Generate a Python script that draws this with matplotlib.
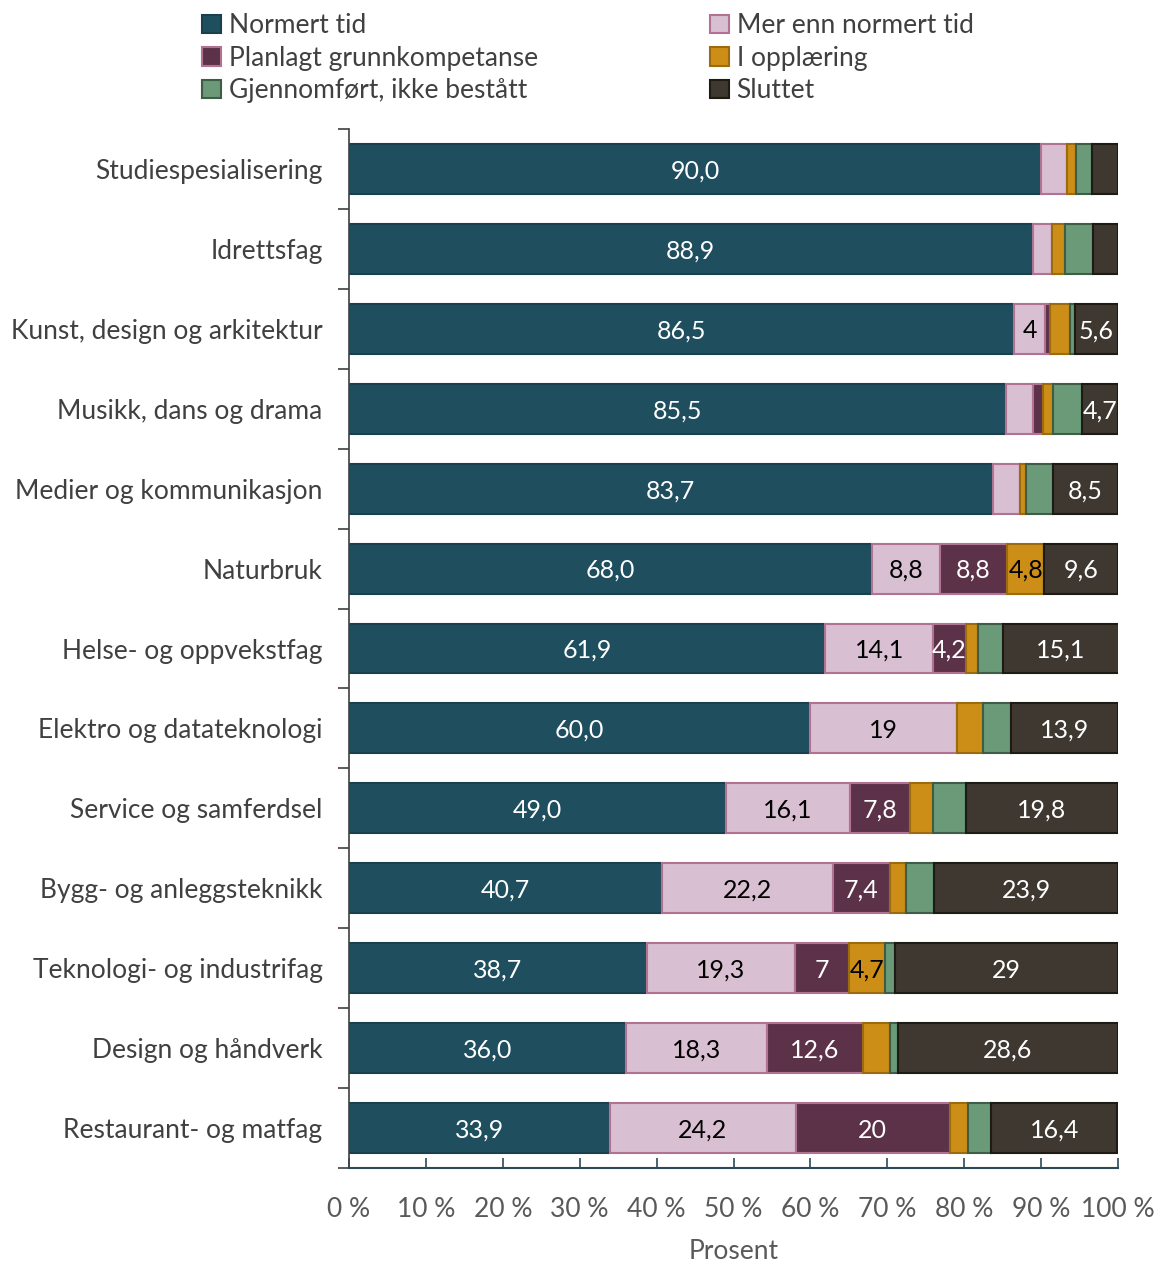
#!/usr/bin/env python3
"""Completion status by programme area, stacked horizontal bars (percent)."""

import numpy as np
import matplotlib
matplotlib.use("Agg")
import matplotlib.pyplot as plt
from matplotlib.patches import Patch

plt.rcParams["font.family"] = ["Lato", "DejaVu Sans"]

# Data
categories = [
    "Studiespesialisering", "Idrettsfag", "Kunst, design og arkitektur",
    "Musikk, dans og drama", "Medier og kommunikasjon", "Naturbruk",
    "Helse- og oppvekstfag", "Elektro og datateknologi", "Service og samferdsel",
    "Bygg- og anleggsteknikk", "Teknologi- og industrifag", "Design og håndverk",
    "Restaurant- og matfag",
]
series_names = [
    "Normert tid", "Mer enn normert tid", "Planlagt grunnkompetanse",
    "I opplæring", "Gjennomført, ikke bestått", "Sluttet",
]
normert = [90.0, 88.9, 86.5, 85.5, 83.7, 68.0, 61.9, 60.0, 49.0, 40.7, 38.7, 36.0, 33.9]
mer_enn = [3.4, 2.5, 4.0, 3.5, 3.5, 8.8, 14.1, 19.0, 16.1, 22.2, 19.3, 18.3, 24.2]
planlagt = [0.0, 0.0, 0.7, 1.2, 0.0, 8.8, 4.2, 0.0, 7.8, 7.4, 7.0, 12.6, 20.0]
opplaering = [1.1, 1.7, 2.5, 1.3, 0.8, 4.8, 1.6, 3.5, 3.0, 2.1, 4.7, 3.4, 2.4]
ikke_bestatt = [2.1, 3.7, 0.7, 3.8, 3.5, 0.0, 3.2, 3.6, 4.3, 3.7, 1.3, 1.1, 3.0]
sluttet = [3.4, 3.2, 5.6, 4.7, 8.5, 9.6, 15.1, 13.9, 19.8, 23.9, 29.0, 28.6, 16.4]
x_ticks = [0, 10, 20, 30, 40, 50, 60, 70, 80, 90, 100]

# Styles
FACE = ["#1f4e5f", "#d8bfd1", "#5c3249", "#cc8e16", "#6a9a78", "#3e3830"]
EDGE = ["#1a3f4d", "#b27393", "#b27393", "#9c6b0f", "#3f5c47", "#1e1b17"]
TEXT = ["white", "black", "white", "black", "white", "white"]
SHOW_LABEL = [True, True, True, True, False, True]
LABEL_MIN = 4.0
GRAY = "#404040"
AXIS = "#2b4a57"
FS = 19

fig = plt.figure(figsize=(11.58, 12.62), dpi=100)
ax = fig.add_axes([349 / 1158, 1 - 1168 / 1262, 769 / 1158, 1039 / 1262])

data = [normert, mer_enn, planlagt, opplaering, ikke_bestatt, sluttet]
y = np.arange(len(categories))
left = np.zeros(len(categories))
for k, vals in enumerate(data):
    vals = np.array(vals)
    ax.barh(y, vals, left=left, height=0.625, color=FACE[k],
            edgecolor=EDGE[k], linewidth=1.5, label=series_names[k])
    if SHOW_LABEL[k]:
        for yi, (l, v) in enumerate(zip(left, vals)):
            if v < LABEL_MIN:
                continue
            txt = f"{v:.1f}" if k == 0 else f"{v:g}"
            ax.text(l + v / 2, yi, txt.replace(".", ","), ha="center",
                    va="center_baseline", color=TEXT[k], fontsize=18)
    left += vals

ax.set_xlim(0, 100)
ax.set_ylim(len(categories) - 0.5, -0.5)
ax.set_yticks(y)
ax.set_yticklabels(categories, fontsize=FS, color=GRAY)
ax.set_yticks(np.arange(len(categories) + 1) - 0.5, minor=True)
ax.tick_params(axis="y", which="major", length=0, pad=19)
ax.tick_params(axis="y", which="minor", length=8, width=1.2, color=GRAY,
               direction="out")
ax.set_xticks(x_ticks)
ax.set_xticklabels([f"{t} %" for t in x_ticks], fontsize=FS, color="#595959")
ax.tick_params(axis="x", direction="in", length=7, width=1.2, color=AXIS, pad=21)
ax.set_xlabel("Prosent", fontsize=FS, color="#595959", labelpad=12)

for s in ["top", "right"]:
    ax.spines[s].set_visible(False)
ax.spines["left"].set_color(GRAY)
ax.spines["left"].set_linewidth(1.2)
ax.spines["bottom"].set_color(AXIS)
ax.spines["bottom"].set_linewidth(1.5)

handles = [Patch(facecolor=FACE[k], edgecolor=EDGE[k], linewidth=1.5)
           for k in range(len(series_names))]
for col, x0 in enumerate([189 / 1158, 697 / 1158]):
    idx = [col, col + 2, col + 4]
    fig.legend([handles[i] for i in idx], [series_names[i] for i in idx],
               loc="upper left", bbox_to_anchor=(x0, 1.0), frameon=False,
               fontsize=FS, handlelength=0.7, handleheight=0.7,
               handletextpad=0.3, labelspacing=0.28, borderaxespad=0.1,
               labelcolor=GRAY)

fig.savefig("out.png", dpi=100)
